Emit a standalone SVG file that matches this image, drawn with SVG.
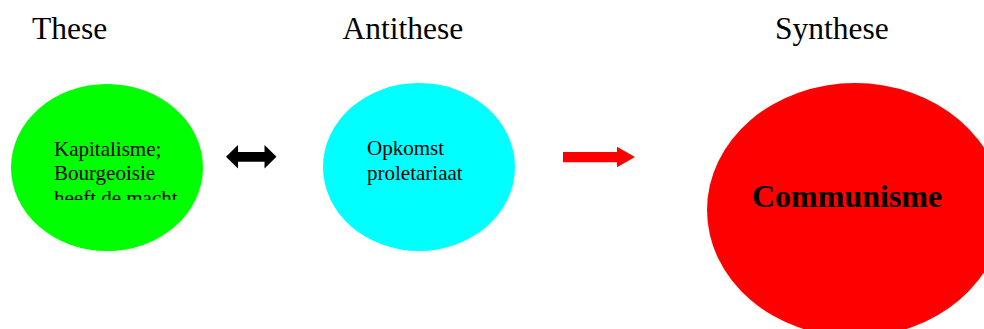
<svg xmlns="http://www.w3.org/2000/svg" width="984" height="329" viewBox="0 0 984 329">
  <style>
    .title { font-family: "Liberation Serif", "Times New Roman", serif; font-size: 31.5px; fill: #000; }
    .label { font-family: "Liberation Serif", "Times New Roman", serif; font-size: 21px; fill: #000; }
    .big { font-family: "Liberation Serif", "Times New Roman", serif; font-size: 32px; font-weight: bold; fill: #000; }
  </style>
  <defs>
    <clipPath id="clipGreen">
      <rect x="40" y="120" width="160" height="80"/>
    </clipPath>
  </defs>
  <rect x="0" y="0" width="984" height="329" fill="#ffffff"/>

  <g id="titles">
    <text class="title" x="32" y="38.5">These</text>
    <text class="title" x="342.5" y="38.5">Antithese</text>
    <text class="title" x="775" y="38.5">Synthese</text>
  </g>

  <g id="node-these">
    <ellipse cx="107" cy="167.5" rx="96" ry="83.5" fill="#00ff00"/>
    <g clip-path="url(#clipGreen)">
      <text class="label" x="54" y="155.5">Kapitalisme;</text>
      <text class="label" x="54" y="180">Bourgeoisie</text>
      <text class="label" x="54" y="204.5">heeft de macht</text>
    </g>
  </g>

  <g id="node-antithese">
    <ellipse cx="419" cy="167" rx="96" ry="84" fill="#00ffff"/>
    <text class="label" x="367" y="155">Opkomst</text>
    <text class="label" x="367" y="179.5">proletariaat</text>
  </g>

  <g id="node-synthese">
    <ellipse cx="855" cy="210" rx="148" ry="127" fill="#ff0000"/>
    <text class="big" x="752" y="207">Communisme</text>
  </g>

  <g id="connectors">
    <polygon points="226,156.8 238,145 238,152 264.5,152 264.5,145 276.5,156.8 264.5,168.5 264.5,161.8 238,161.8 238,168.5" fill="#000000"/>
    <polygon points="563,152 617,152 617,146.8 635,157 617,167.3 617,162.2 563,162.2" fill="#ff0000"/>
  </g>
</svg>
